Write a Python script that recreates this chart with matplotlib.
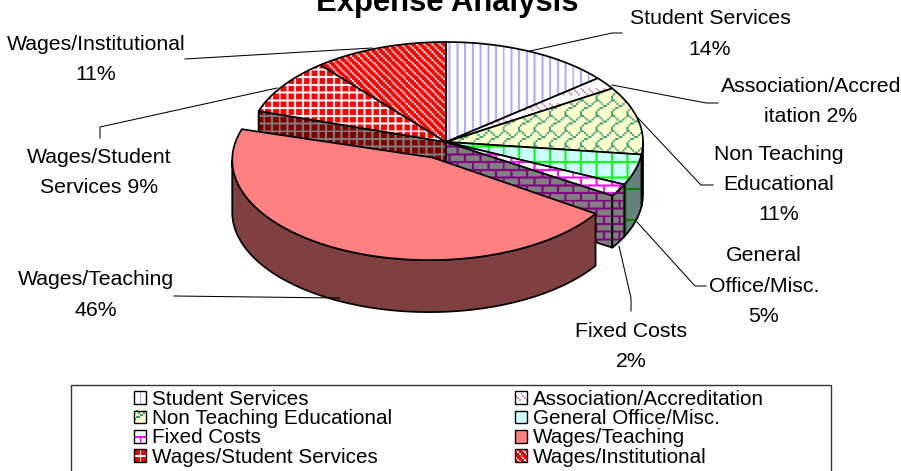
import numpy as np
import matplotlib
matplotlib.use("Agg")
import matplotlib.pyplot as plt
from matplotlib.patches import Polygon, Rectangle, Patch
from matplotlib.image import BboxImage
from matplotlib.legend_handler import HandlerBase
from matplotlib.transforms import Bbox, TransformedBbox
from matplotlib.colors import to_rgb

plt.rcParams['font.family'] = ['Liberation Sans', 'DejaVu Sans']

# ---- data ----
categories = ["Student Services", "Association/Accreditation", "Non Teaching Educational",
              "General Office/Misc.", "Fixed Costs", "Wages/Teaching",
              "Wages/Student Services", "Wages/Institutional"]
values = [14, 2, 11, 5, 2, 46, 9, 11]
label_prefix = ["Student Services\n", "Association/Accred\nitation ", "Non Teaching\nEducational\n",
                "General\nOffice/Misc.\n", "Fixed Costs\n", "Wages/Teaching\n",
                "Wages/Student\nServices ", "Wages/Institutional\n"]
title = "Expense Analysis"

# ---- layout ----
W, H = 901, 471
cx, cy, a, b, depth = 446.0, 142.0, 197.0, 100.0, 52.0
explode = 0.2
apex_nudge = (3.5, -2.5)
label_pos = [(710, 34), (811, 101.5), (779, 184.5), (764, 286), (631, 346.5), (96, 295), (99, 172.5), (96, 59.5)]
leaders = [[(622, 33), (612, 33), (530, 51)],
           [(718, 103), (706, 103), (612, 85)],
           [(713, 185), (701, 185), (638, 118)],
           [(706, 286), (695, 286), (637, 222)],
           [(631, 311), (631, 298), (619, 246)],
           [(174, 296), (340, 298)],
           [(100, 138), (100, 127), (277, 88)],
           [(185, 59), (372, 48)]]

# ---- pattern tiles ----
def rows(*r):
    return np.array([[int(c) for c in s] for s in r])

T_VERT = rows(*["10001000"] * 8)
T_PLAID = rows("11111111", "10001000", "10001000", "10001000",
               "11111111", "10001000", "10001000", "10001000")
T_DIAG = rows("10001000", "01000100", "00100010", "00010001",
              "10001000", "01000100", "00100010", "00010001")
T_GRID = rows("11111111", *["10000000"] * 7)
T_GRID2 = np.zeros((16, 16), int)
T_GRID2[6, :] = 1
T_GRID2[:, 7] = 1
T_BRICK = rows("11111111", "10000000", "10000000", "10000000",
               "11111111", "00001000", "00001000", "00001000")
T_DASH = rows("00000000", "00000000", "10001000", "01000100",
              "00100010", "00010001", "00000000", "00000000")
T_SHINGLE = rows("11000000", "00100001", "00010010", "00001100",
                 "00110000", "01000000", "10000000", "10000000")
T_SOLID = np.zeros((8, 8), int)

PERIOD = 15.45
ORIGIN = (488.3, 146.7)
SS = 2


def texture(tile, fg, bg, w=W, h=H, ox=-ORIGIN[0], oy=-ORIGIN[1]):
    xs = (np.arange(w * SS) + 0.5) / SS + ox + PERIOD / 16
    ys = (np.arange(h * SS) + 0.5) / SS + oy + PERIOD / 16
    ix = (np.floor(xs / PERIOD * 8).astype(int)) % tile.shape[1]
    iy = (np.floor(ys / PERIOD * 8).astype(int)) % tile.shape[0]
    m = tile[np.ix_(iy, ix)][..., None].astype(float)
    return m * np.array(to_rgb(fg)) + (1 - m) * np.array(to_rgb(bg))


styles_top = [(T_VERT, "#A8A8FF", "#FFFFFF"), (T_DASH, "#C48FB0", "#FFFFFF"),
              (T_SHINGLE, "#3C9F78", "#FFFFCC"), (T_GRID, "#00FF00", "#CCFFFF"),
              (T_BRICK, "#FF00FF", "#FFFFFF"), (T_SOLID, "#FF8080", "#FF8080"),
              (T_PLAID, "#FFFFFF", "#FF0000"), (T_DIAG, "#FFFFFF", "#FF0000")]
styles_side = [(T_VERT, "#555580", "#808080"), (T_DASH, "#604860", "#808080"),
               (T_SHINGLE, "#008000", "#808066"), (T_GRID2, "#008000", "#668080"),
               (T_BRICK, "#800080", "#808080"), (T_SOLID, "#804040", "#804040"),
               (T_PLAID, "#808080", "#800000"), (T_DIAG, "#808080", "#800000")]

fig = plt.figure(figsize=(W / 100, H / 100), dpi=100)
ax = fig.add_axes([0, 0, 1, 1])
ax.set_axis_off()
zc = [10]
LW = 1.25


def fill(pts, style):
    tile, fg, bg = style
    z = zc[0]
    zc[0] += 3
    poly = Polygon(pts, closed=True, facecolor=bg, edgecolor="none", zorder=z)
    ax.add_patch(poly)
    if tile is not T_SOLID:
        im = ax.imshow(texture(tile, fg, bg), extent=(0, W, H, 0), aspect="auto",
                       interpolation="antialiased", zorder=z + 1)
        im.set_clip_path(poly)
    ax.add_patch(Polygon(pts, closed=True, facecolor="none", edgecolor="black",
                         linewidth=LW, joinstyle="round", zorder=z + 2))


def rim(t0, t1, ox, oy, dy=0.0):
    t = np.radians(np.linspace(t0, t1, max(2, int(abs(t1 - t0) * 2) + 1)))
    return np.column_stack([cx + ox + a * np.sin(t), cy + oy + dy - b * np.cos(t)])


edges = np.cumsum([0] + values) / sum(values) * 360.0
iT = categories.index("Wages/Teaching")
mid = np.radians((edges[iT] + edges[iT + 1]) / 2)
ex, ey = explode * a * np.sin(mid), -explode * b * np.cos(mid)

# back radial faces and outer walls of the main pie
iF = categories.index("Fixed Costs")
iS = categories.index("Wages/Student Services")
for ang, st, in [(edges[iS], styles_side[iS]), (edges[iF + 1], styles_side[iF])]:
    r = rim(ang, ang, 0, 0)[0]
    fill([(cx, cy), r, (r[0], r[1] + depth), (cx, cy + depth)], st)
for i in range(len(values)):
    if i == iT:
        continue
    t0, t1 = max(edges[i], 90), min(edges[i + 1], 270)
    if t1 > t0:
        top = rim(t0, t1, 0, 0)
        fill(np.vstack([top, rim(t0, t1, 0, 0, depth)[::-1]]), styles_side[i])
# main pie top
for i in range(len(values)):
    if i == iT:
        continue
    fill(np.vstack([[(cx, cy)], rim(edges[i], edges[i + 1], 0, 0)]), styles_top[i])
# exploded slice
t0, t1 = edges[iT], min(edges[iT + 1], 270)
fill(np.vstack([rim(t0, t1, ex, ey), rim(t0, t1, ex, ey, depth)[::-1]]), styles_side[iT])
fill(np.vstack([[(cx + ex + apex_nudge[0], cy + ey + apex_nudge[1])],
                rim(edges[iT], edges[iT + 1], ex, ey)]), styles_top[iT])

# leader lines and data labels
for pts in leaders:
    p = np.array(pts)
    ax.plot(p[:, 0], p[:, 1], color="black", lw=0.75, zorder=100, solid_joinstyle="miter")
LABEL_PX = 21.3
for pre, v, (x, y) in zip(label_prefix, values, label_pos):
    ax.text(x, y, f"{pre}{v}%", ha="center", va="center", ma="center",
            fontsize=LABEL_PX * 0.72, linespacing=1.76, color="black", zorder=110, clip_on=False)

ax.text(447, 10.5, title, ha="center", va="baseline", fontsize=31 * 0.72,
        fontweight="bold", color="black", zorder=110)

# legend
ax.add_patch(Rectangle((71, 384.5), 760, 120, facecolor="white", edgecolor="#333333",
                       linewidth=1.0, zorder=5, clip_on=True))


class SwatchHandler(HandlerBase):
    def create_artists(self, legend, orig, xd, yd, width, height, fontsize, trans):
        i = categories.index(orig.get_label())
        tile, fg, bg = styles_top[i]
        img = BboxImage(TransformedBbox(Bbox([[-xd, -yd], [width - xd, height - yd]]), trans),
                        interpolation="nearest")
        img.set_data(texture(tile, fg, bg, 12, 12, ox=1.0, oy=1.0))
        box = Rectangle((-xd, -yd), width, height, facecolor="none", edgecolor="black",
                        linewidth=1.0, transform=trans)
        return [img, box]


order = [0, 2, 4, 6, 1, 3, 5, 7]
handles = [Patch(label=categories[i]) for i in order]
LEG_PX = 20.6
leg = ax.legend(handles=handles, ncols=2, loc="upper left", bbox_to_anchor=(134, 390),
                bbox_transform=ax.transData, frameon=False, borderpad=0, borderaxespad=0,
                prop={"family": "Liberation Sans", "size": LEG_PX * 0.72},
                handlelength=12 / LEG_PX, handleheight=12 / LEG_PX, handletextpad=5.5 / LEG_PX,
                labelspacing=0.01, columnspacing=6.0,
                handler_map={Patch: SwatchHandler()})
leg.set_zorder(120)

ax.set_xlim(0, W)
ax.set_ylim(H, 0)
fig.savefig("out.png", dpi=100)
